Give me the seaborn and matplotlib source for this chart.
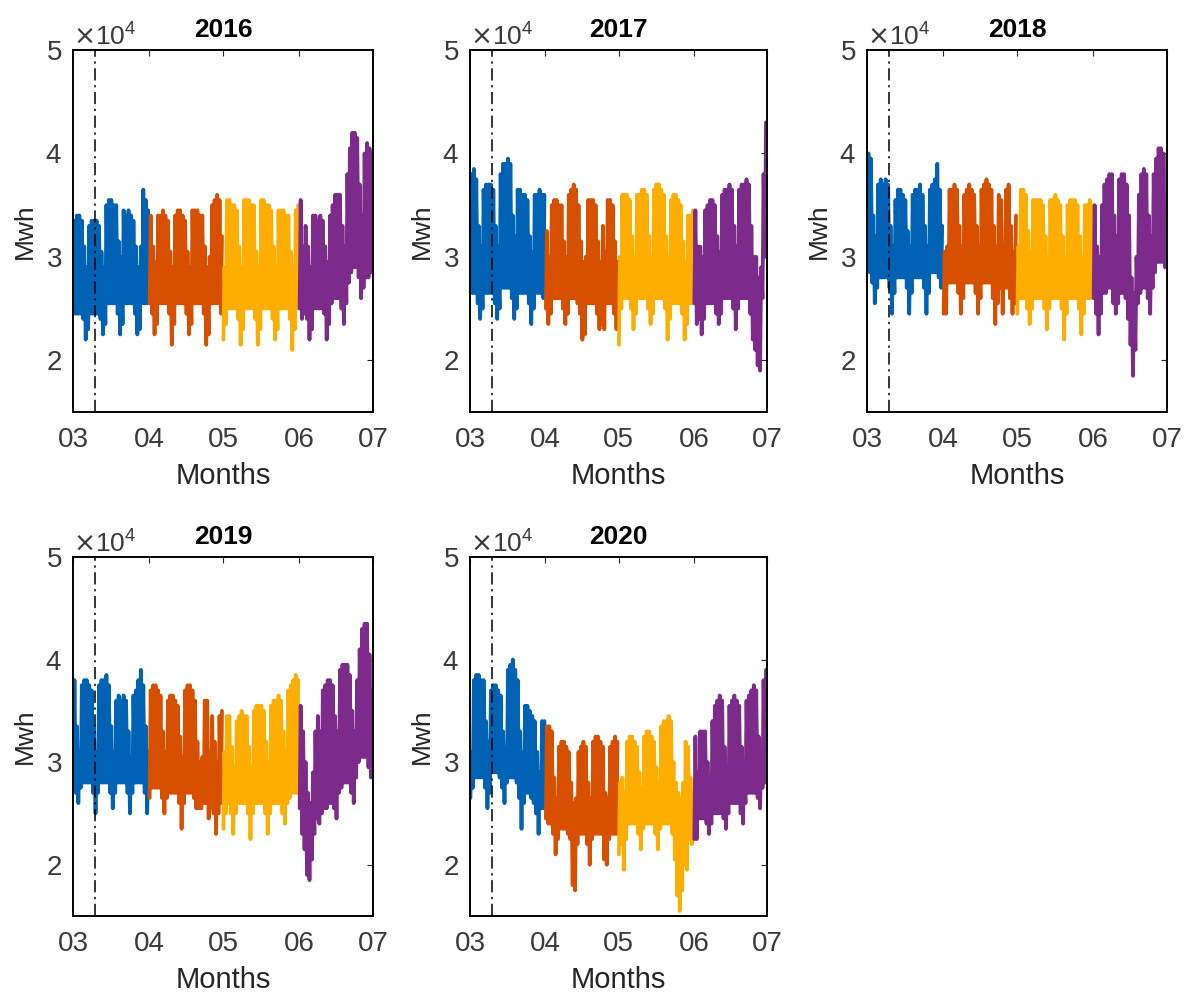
"""
Hourly electricity load, March-June, 2016-2020.
One panel per year, months coloured separately, lockdown date marked.
"""

import matplotlib

matplotlib.use("Agg")

import matplotlib.dates as mdates
import matplotlib.pyplot as plt
import pandas as pd
import seaborn as sns
from matplotlib.ticker import ScalarFormatter


# -----------------------------
# Data (daily peak / night trough, thousand MWh, Mar..Jun)
# -----------------------------

YEARS = [2016, 2017, 2018, 2019, 2020]
MONTH_TICKS = ["03", "04", "05", "06", "07"]
MARK_DAY = "03-10"

PEAK_2016 = [
    33.5, 34.0, 34.0, 33.5, 31.0, 29.0, 33.0, 33.5, 33.5, 33.5, 33.0, 30.5, 29.0, 35.0, 35.5, 35.5,
    35.0, 35.0, 31.5, 30.0, 34.5, 34.0, 34.5, 34.0, 33.5, 31.0, 29.0, 31.0, 36.5, 35.5, 34.5,
    34.0, 31.0, 29.5, 34.0, 34.0, 34.5, 34.0, 33.5, 30.5, 29.0, 34.0, 34.5, 34.5, 34.0, 33.5,
    30.5, 29.0, 34.5, 34.5, 34.5, 34.0, 34.0, 31.0, 29.0, 30.0, 35.0, 35.5, 36.0, 35.5, 32.0,
    29.0, 35.5, 35.5, 35.0, 35.0, 34.5, 31.0, 29.0, 35.5, 35.5, 35.5, 35.0, 35.0, 30.5, 29.0, 35.5,
    35.5, 35.0, 35.0, 34.5, 31.0, 29.0, 34.5, 34.5, 34.5, 34.0, 34.0, 30.5, 29.0, 34.5, 35.0,
    35.5, 31.0, 33.0, 31.0, 29.0, 34.0, 34.0, 33.5, 34.0, 33.5, 31.0, 29.5, 34.0, 35.0, 36.0,
    36.0, 36.0, 33.0, 31.0, 38.0, 40.5, 42.0, 42.0, 41.5, 37.0, 34.0, 40.0, 41.0, 40.5, 40.0,
]
TROUGH_2016 = [
    24.5, 24.5, 24.5, 24.5, 24.0, 22.0, 23.0, 24.5, 24.5, 24.5, 24.5, 24.0, 22.5, 23.5, 25.5, 25.5,
    25.5, 25.5, 24.5, 22.5, 23.5, 25.5, 25.5, 25.5, 25.5, 24.5, 22.5, 23.0, 25.5, 25.5, 25.5,
    25.5, 24.5, 22.5, 23.5, 25.5, 25.5, 25.5, 25.5, 24.5, 21.5, 23.5, 25.5, 25.5, 25.5, 25.5,
    24.5, 22.5, 23.5, 25.5, 25.5, 25.5, 25.5, 24.5, 21.5, 22.5, 25.5, 25.5, 25.5, 25.5, 24.5,
    22.0, 23.5, 25.0, 25.0, 25.0, 25.0, 24.0, 21.5, 23.0, 25.0, 25.0, 25.0, 25.0, 24.0, 21.5, 23.0,
    25.0, 25.0, 25.0, 25.0, 24.0, 22.0, 23.0, 25.0, 25.0, 25.0, 25.0, 24.0, 21.0, 23.0, 25.0,
    25.0, 24.0, 24.5, 24.0, 22.0, 23.0, 25.0, 25.0, 25.0, 25.0, 24.5, 22.0, 23.5, 25.5, 26.0,
    26.0, 26.0, 25.0, 23.5, 25.5, 27.5, 28.5, 29.0, 29.0, 28.0, 26.0, 27.0, 28.0, 28.0, 28.5,
]

PEAK_2017 = [
    38.0, 38.5, 37.5, 33.0, 31.0, 36.5, 37.0, 37.0, 37.0, 36.5, 33.0, 31.0, 38.0, 39.0, 39.0, 39.5,
    39.0, 34.0, 32.0, 36.5, 36.5, 36.0, 36.0, 35.5, 32.0, 30.5, 36.0, 36.0, 36.5, 36.0, 36.0,
    32.5, 30.0, 35.0, 35.5, 35.5, 35.0, 35.0, 31.5, 30.0, 36.0, 36.5, 37.0, 36.5, 35.0, 31.5,
    29.5, 30.0, 35.5, 35.5, 35.5, 35.0, 31.5, 29.5, 33.0, 30.5, 35.5, 35.5, 35.0, 31.5, 29.5,
    30.0, 36.0, 36.0, 36.0, 35.5, 32.0, 30.0, 36.0, 36.0, 36.5, 36.5, 36.0, 32.0, 30.0, 36.5,
    37.0, 37.0, 36.5, 36.0, 32.0, 30.0, 35.5, 36.0, 36.0, 35.5, 35.0, 31.5, 29.5, 34.0, 34.0, 34.5,
    34.5, 31.0, 31.0, 30.0, 34.5, 35.0, 35.5, 35.5, 35.0, 32.0, 30.5, 36.0, 36.5, 36.5, 37.0,
    36.5, 33.0, 31.0, 36.5, 37.0, 37.0, 37.5, 37.0, 33.0, 30.0, 30.0, 28.0, 29.0, 38.0, 43.0,
]
TROUGH_2017 = [
    26.5, 26.5, 26.5, 25.5, 24.0, 25.0, 26.5, 26.5, 26.5, 26.5, 25.5, 24.0, 25.0, 27.0, 27.0, 27.0,
    27.0, 26.0, 24.0, 25.0, 26.5, 26.5, 26.5, 26.5, 25.5, 23.5, 25.0, 26.5, 26.5, 26.5, 26.0,
    25.0, 23.5, 24.5, 26.0, 26.0, 26.0, 26.0, 25.0, 23.5, 24.5, 26.0, 26.0, 26.0, 25.5, 24.5,
    22.0, 22.5, 25.5, 25.5, 25.5, 25.5, 24.5, 23.0, 23.5, 23.0, 25.5, 25.5, 25.5, 24.5, 23.0,
    21.5, 25.0, 26.0, 26.0, 26.0, 25.0, 23.0, 24.5, 26.0, 26.0, 26.0, 26.0, 25.0, 23.5, 24.5,
    26.0, 26.0, 26.0, 26.0, 25.0, 22.0, 24.0, 25.5, 25.5, 25.5, 25.5, 24.5, 22.0, 23.5, 25.5, 25.5,
    25.5, 23.5, 24.0, 22.5, 24.0, 25.5, 25.5, 25.5, 25.5, 24.5, 23.5, 24.5, 26.0, 26.0, 26.0,
    26.0, 25.0, 23.0, 25.0, 26.0, 26.0, 26.0, 26.0, 24.5, 22.0, 21.0, 19.5, 19.0, 26.0, 30.0,
]

PEAK_2018 = [
    40.0, 39.5, 34.0, 32.0, 37.0, 37.5, 37.0, 37.5, 37.0, 33.0, 31.0, 35.5, 36.5, 36.5, 36.0, 35.5,
    32.5, 31.0, 36.0, 36.5, 36.5, 37.0, 36.0, 33.0, 31.0, 36.5, 37.0, 37.5, 39.0, 36.5, 33.0,
    30.5, 31.0, 36.5, 36.5, 37.0, 36.5, 33.0, 31.0, 36.0, 36.5, 37.0, 36.5, 36.0, 33.0, 31.0,
    36.5, 37.0, 37.5, 37.0, 36.5, 33.0, 31.0, 36.0, 35.5, 31.0, 36.5, 37.0, 33.0, 30.5, 34.0,
    31.0, 36.5, 36.5, 36.0, 32.5, 30.5, 35.5, 35.5, 35.5, 35.5, 35.0, 32.0, 30.0, 35.5, 35.5,
    36.0, 35.5, 35.0, 32.0, 30.0, 35.0, 35.5, 35.5, 35.5, 35.0, 32.0, 30.0, 35.0, 35.0, 35.5, 35.0,
    35.0, 31.0, 30.0, 35.0, 37.0, 37.5, 38.0, 38.0, 34.0, 32.0, 37.5, 38.0, 38.0, 37.0, 34.0,
    28.0, 26.5, 30.0, 36.0, 38.0, 38.5, 38.0, 34.0, 32.0, 38.0, 39.5, 40.5, 40.5, 40.0, 36.0,
]
TROUGH_2018 = [
    29.0, 28.5, 27.5, 25.5, 27.0, 28.0, 28.0, 28.0, 28.0, 27.0, 24.5, 26.5, 28.0, 28.0, 28.0, 28.0,
    27.0, 24.5, 26.5, 28.0, 28.0, 28.0, 28.0, 27.0, 24.5, 26.5, 28.5, 28.5, 28.5, 28.0, 27.0,
    24.5, 24.5, 27.5, 27.5, 27.5, 27.5, 26.5, 24.5, 26.0, 27.5, 27.5, 27.5, 27.5, 26.5, 24.5,
    26.0, 27.5, 27.5, 27.5, 27.5, 26.0, 23.5, 25.5, 27.0, 24.5, 27.0, 27.0, 26.0, 24.5, 25.5,
    24.5, 26.0, 26.0, 26.0, 25.0, 23.5, 25.0, 26.0, 26.0, 26.0, 26.0, 25.0, 23.0, 25.0, 26.0,
    26.0, 26.0, 26.0, 25.0, 22.0, 24.5, 26.0, 26.0, 26.0, 26.0, 25.0, 22.5, 24.5, 26.0, 26.0, 26.0,
    26.0, 24.5, 22.5, 24.5, 26.5, 26.5, 27.0, 27.0, 25.5, 24.5, 25.5, 26.5, 26.5, 26.0, 24.0,
    21.5, 18.5, 21.0, 25.5, 26.5, 27.0, 27.0, 26.0, 24.5, 27.0, 28.5, 29.5, 29.5, 29.5, 29.0,
]

PEAK_2019 = [
    38.0, 33.5, 31.0, 37.5, 38.0, 38.0, 37.5, 37.0, 33.5, 31.0, 37.5, 38.0, 38.0, 38.5, 37.5, 33.5,
    31.0, 36.0, 36.5, 36.0, 36.5, 36.0, 33.0, 30.5, 36.5, 37.0, 38.0, 39.0, 37.5, 33.5, 31.0,
    37.0, 37.5, 37.5, 37.0, 36.5, 33.0, 31.0, 36.0, 36.5, 36.5, 36.0, 35.5, 32.5, 30.5, 37.0,
    37.5, 37.5, 37.0, 36.0, 32.0, 30.0, 30.5, 36.0, 36.0, 31.0, 34.5, 32.0, 30.0, 34.5, 35.0,
    31.0, 34.5, 34.5, 31.5, 29.5, 34.0, 34.5, 35.0, 34.5, 34.5, 31.5, 29.5, 35.0, 35.5, 35.5,
    35.5, 35.0, 32.0, 30.0, 35.5, 36.0, 36.0, 36.5, 36.0, 33.0, 31.0, 37.0, 37.5, 38.0, 38.5, 38.0,
    35.5, 33.0, 30.0, 27.0, 26.0, 29.0, 33.0, 34.5, 33.0, 37.0, 37.5, 38.0, 38.0, 37.5, 34.5,
    33.0, 39.0, 39.5, 39.5, 39.5, 38.5, 35.0, 33.0, 38.0, 41.0, 43.0, 43.5, 43.5, 40.5, 37.0,
]
TROUGH_2019 = [
    28.5, 27.0, 26.0, 27.5, 28.0, 28.0, 28.0, 28.0, 27.0, 25.0, 27.0, 28.0, 28.0, 28.0, 28.0, 27.0,
    25.5, 27.0, 28.0, 28.0, 28.0, 28.0, 27.0, 25.0, 27.0, 28.0, 28.0, 28.0, 28.0, 27.0, 25.0,
    26.5, 27.5, 27.5, 27.5, 27.5, 26.5, 25.0, 26.5, 27.0, 27.0, 27.0, 27.0, 26.0, 23.5, 26.0,
    27.0, 27.0, 27.0, 26.5, 25.5, 25.5, 25.5, 26.0, 26.0, 24.5, 25.5, 25.0, 23.0, 25.0, 26.0,
    23.5, 25.0, 26.0, 25.0, 23.0, 25.0, 26.0, 26.0, 26.0, 26.0, 25.0, 22.5, 25.0, 26.0, 26.0,
    26.0, 26.0, 25.0, 23.0, 25.0, 26.0, 26.0, 26.0, 26.0, 25.0, 24.0, 26.0, 26.5, 27.0, 27.0, 27.0,
    25.5, 23.0, 21.5, 19.0, 18.5, 20.5, 23.0, 24.5, 24.0, 25.0, 25.5, 25.5, 26.0, 26.0, 25.5,
    24.5, 27.0, 27.5, 28.0, 28.0, 28.0, 27.0, 26.0, 28.5, 30.0, 30.5, 30.5, 30.5, 29.5, 28.5,
]

PEAK_2020 = [
    31.0, 38.0, 38.5, 38.5, 38.0, 38.0, 34.0, 32.0, 37.0, 37.5, 37.5, 37.0, 36.5, 33.0, 31.5, 39.0,
    39.5, 40.0, 39.0, 38.0, 33.0, 31.0, 35.5, 35.5, 35.0, 34.5, 34.0, 31.0, 29.0, 34.0, 34.0,
    33.5, 33.5, 33.0, 28.5, 26.5, 31.5, 32.0, 32.0, 31.5, 31.0, 28.0, 26.0, 26.5, 31.0, 31.5,
    32.0, 31.5, 28.0, 26.5, 32.0, 32.5, 32.5, 32.0, 31.5, 27.0, 26.5, 31.5, 32.0, 32.5, 32.0,
    28.0, 28.5, 27.0, 32.0, 32.5, 32.5, 32.0, 31.5, 29.0, 27.5, 32.5, 33.0, 33.0, 32.5, 32.0,
    29.5, 28.0, 33.5, 34.0, 34.0, 34.5, 34.0, 30.0, 28.0, 27.0, 26.5, 28.0, 32.0, 31.5, 28.5, 27.0,
    32.5, 29.0, 33.0, 33.0, 33.0, 30.0, 28.5, 34.0, 35.5, 36.0, 36.5, 36.0, 31.5, 29.5, 35.5,
    36.0, 36.5, 36.0, 35.5, 31.5, 30.0, 36.0, 36.5, 37.0, 37.5, 37.0, 32.5, 30.5, 38.0, 39.0,
]
TROUGH_2020 = [
    26.5, 27.5, 28.5, 28.5, 28.5, 28.5, 27.5, 25.5, 27.0, 29.0, 29.0, 29.0, 28.5, 27.5, 26.0, 28.0,
    28.5, 28.5, 28.5, 28.0, 26.5, 23.5, 26.0, 27.0, 27.0, 26.5, 26.0, 25.0, 23.0, 25.5, 25.5,
    24.5, 24.0, 24.0, 23.0, 21.0, 22.5, 23.5, 23.5, 23.5, 23.0, 22.5, 18.0, 17.5, 22.0, 23.0,
    23.0, 23.0, 22.0, 20.0, 22.5, 23.0, 23.0, 23.0, 23.0, 20.5, 20.0, 22.5, 23.0, 23.0, 23.0,
    21.0, 22.0, 19.5, 22.5, 24.0, 24.0, 24.0, 24.0, 23.0, 21.5, 23.5, 24.0, 24.0, 24.0, 24.0,
    23.0, 21.5, 23.5, 24.0, 24.0, 24.0, 24.0, 23.0, 20.5, 17.0, 15.5, 17.5, 20.0, 19.5, 22.5, 22.0,
    22.5, 22.5, 24.5, 24.5, 24.5, 24.0, 23.0, 24.0, 25.0, 25.0, 25.0, 25.0, 24.5, 23.5, 25.0,
    26.0, 26.0, 26.0, 26.0, 25.0, 24.0, 26.0, 27.0, 27.0, 27.0, 27.0, 26.5, 25.5, 27.5, 28.0,
]

SERIES = {
    2016: (PEAK_2016, TROUGH_2016),
    2017: (PEAK_2017, TROUGH_2017),
    2018: (PEAK_2018, TROUGH_2018),
    2019: (PEAK_2019, TROUGH_2019),
    2020: (PEAK_2020, TROUGH_2020),
}


# -----------------------------
# Style
# -----------------------------

sns.set_style("white")
plt.rcParams["font.family"] = ["Liberation Sans", "DejaVu Sans"]

MONTH_COLORS = {3: "#0062B4", 4: "#D65000", 5: "#FDAE00", 6: "#7D2B8A"}
TEXT_DARK = "#262626"
TICK_GREY = "#3a3a3a"

FIG_W, FIG_H = 1189, 998

# axes boxes in pixels: left, top, right, bottom
AX_BOXES = [
    (73, 50, 373, 412),
    (470, 50, 767, 412),
    (867, 50, 1167, 412),
    (73, 557, 373, 916),
    (470, 557, 767, 916),
]


def build_frame(year: int) -> pd.DataFrame:
    peaks, troughs = SERIES[year]
    days = pd.date_range(f"{year}-03-01", f"{year}-06-30", freq="D")

    low = pd.DataFrame({"time": days + pd.Timedelta(hours=4), "load": troughs})
    high = pd.DataFrame({"time": days + pd.Timedelta(hours=14), "load": peaks})

    df = pd.concat([low, high]).sort_values("time").reset_index(drop=True)
    df["load"] = df["load"] * 1000
    df["month"] = df["time"].dt.month
    return df


def draw_panel(ax, year: int) -> None:
    df = build_frame(year)

    sns.lineplot(
        data=df,
        x="time",
        y="load",
        hue="month",
        palette=MONTH_COLORS,
        estimator=None,
        legend=False,
        linewidth=2.7,
        ax=ax,
    )

    ax.axvline(
        pd.Timestamp(f"{year}-{MARK_DAY}"),
        color="black",
        linestyle=(0, (8, 3, 1.5, 3)),
        linewidth=1.1,
        zorder=5,
    )

    start = pd.Timestamp(f"{year}-03-01")
    ax.set_xlim(start, pd.Timestamp(f"{year}-07-01"))
    ax.set_xticks(pd.date_range(start, periods=len(MONTH_TICKS), freq="MS"))
    ax.xaxis.set_major_formatter(mdates.DateFormatter("%m"))

    ax.set_ylim(1.5e4, 5e4)
    ax.set_yticks([2e4, 3e4, 4e4, 5e4])
    fmt = ScalarFormatter(useMathText=True)
    fmt.set_powerlimits((0, 0))
    ax.yaxis.set_major_formatter(fmt)
    ax.yaxis.get_offset_text().set_fontsize(19)
    ax.yaxis.get_offset_text().set_color("#7a7a7a")

    ax.tick_params(
        direction="in",
        top=True,
        right=True,
        length=4,
        width=0.8,
        labelsize=20,
        labelcolor=TICK_GREY,
        color=TEXT_DARK,
    )
    ax.tick_params(axis="x", pad=11)
    ax.tick_params(axis="y", pad=8)

    for spine in ax.spines.values():
        spine.set_color("black")
        spine.set_linewidth(1.4)

    ax.set_title(str(year), fontsize=19, fontweight="bold", color="black", pad=9)
    ax.set_xlabel("Months", fontsize=21, color=TEXT_DARK, labelpad=6)
    ax.set_ylabel("Mwh", fontsize=19, color=TEXT_DARK, labelpad=6)


def main() -> None:
    fig = plt.figure(figsize=(FIG_W / 100, FIG_H / 100), dpi=100, facecolor="white")

    for year, (left, top, right, bottom) in zip(YEARS, AX_BOXES):
        ax = fig.add_axes(
            [
                left / FIG_W,
                1 - bottom / FIG_H,
                (right - left) / FIG_W,
                (bottom - top) / FIG_H,
            ]
        )
        draw_panel(ax, year)

    fig.savefig("out.png", dpi=100)
    plt.close(fig)


if __name__ == "__main__":
    main()
